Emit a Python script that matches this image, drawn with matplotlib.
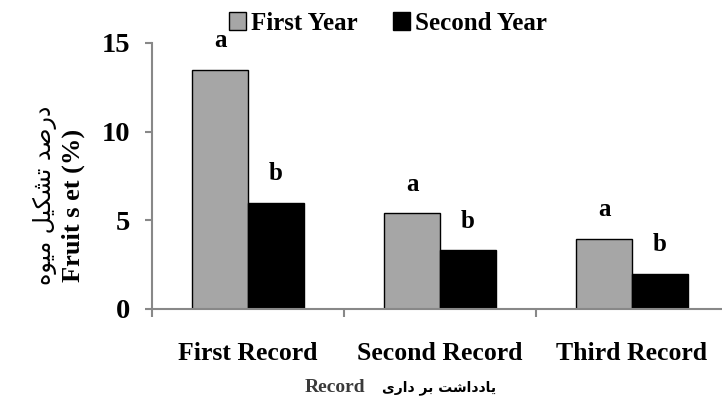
import numpy as np
import matplotlib
matplotlib.use("Agg")
import matplotlib.pyplot as plt

# ===== Data =====
records = ["First Record", "Second Record", "Third Record"]
first_year = [13.5, 5.4, 3.95]
second_year = [6.0, 3.3, 2.0]
first_letters = ["a", "a", "a"]
second_letters = ["b", "b", "b"]
series_names = ["First Year", "Second Year"]
y_ticks = [0, 5, 10, 15]

# Persian labels, written in presentation forms and visual order
# (matplotlib does no Arabic shaping / RTL)
ylabel_fa = "\uFEE9\uFEEE\uFBFF\uFEE3 \uFEDE\uFBFF\uFB91\uFEB8\uFE97 \uFEAA\uFEBB\uFEAD\uFEA9"   # درصد تشکیل میوه
xlabel_fa = "\uFBFC\uFEAD\uFE8D\uFEA9 \uFEAE\uFE91 \uFE96\uFEB7\uFE8D\uFEA9\uFEA9\uFE8E\uFBFE"  # یادداشت بر داری
ylabel_en = "Fruit s et (%)"
xlabel_en = "Record"

plt.rcParams["font.family"] = ["Liberation Serif", "DejaVu Serif"]
plt.rcParams["font.weight"] = "bold"

fig = plt.figure(figsize=(7.22, 4.03), dpi=100)
ax = fig.add_axes([152 / 722, 1 - 309 / 403, 576 / 722, 266 / 403])

x = np.arange(len(records))
w = 0.29
b1 = ax.bar(x - w, first_year, w, align="edge", color="#a6a6a6",
            edgecolor="black", linewidth=1.0, label=series_names[0])
b2 = ax.bar(x, second_year, w, align="edge", color="black",
            edgecolor="black", linewidth=1.0, label=series_names[1])

# significance letters
for i in range(len(records)):
    ax.annotate(first_letters[i], (x[i] - w / 2, first_year[i]), xytext=(0, 21),
                textcoords="offset points", ha="center", va="center",
                fontsize=18, fontweight="bold", annotation_clip=False)
    ax.annotate(second_letters[i], (x[i] + w / 2, second_year[i]), xytext=(0, 21),
                textcoords="offset points", ha="center", va="center",
                fontsize=18, fontweight="bold", annotation_clip=False)

ax.set_xlim(-0.5, 2.5)
ax.set_ylim(0, 15)
ax.set_yticks(y_ticks)
ax.set_yticklabels([str(t) for t in y_ticks], fontsize=20.5, fontweight="bold")
ax.tick_params(axis="y", length=5, width=1.5, color="#888888", pad=11)

ax.set_xticks(x)
ax.set_xticklabels(records, fontsize=18.5, fontweight="bold")
ax.tick_params(axis="x", which="major", length=0, pad=24)
ax.set_xticks([-0.5, 0.5, 1.5, 2.5], minor=True)
ax.tick_params(axis="x", which="minor", length=6, width=1.5, color="#888888")

for s in ["top", "right"]:
    ax.spines[s].set_visible(False)
for s in ["left", "bottom"]:
    ax.spines[s].set_color("#888888")
    ax.spines[s].set_linewidth(1.5)

# axis titles
fig.text(73 / 722, 1 - 205 / 403, ylabel_en, rotation=90, ha="center", va="center",
         fontsize=19, fontweight="bold")
fig.text(45 / 722, 1 - 195 / 403, ylabel_fa, rotation=90, ha="center", va="center",
         fontsize=17, fontweight="normal", family=["DejaVu Sans"])
fig.text(335 / 722, 1 - 388 / 403, xlabel_en, ha="center", va="center",
         fontsize=14, fontweight="bold", color="#3a3a3a")
fig.text(439 / 722, 1 - 388 / 403, xlabel_fa, ha="center", va="center",
         fontsize=10, fontweight="bold", family=["DejaVu Sans"])

fig.legend(handles=[b1, b2], labels=series_names, loc="center",
           bbox_to_anchor=(388 / 722, 1 - 23 / 403), ncol=2, frameon=False,
           fontsize=18, handlelength=0.7, handleheight=0.7,
           handletextpad=0.2, columnspacing=1.4, borderpad=0)

fig.savefig("out.png", dpi=100)
